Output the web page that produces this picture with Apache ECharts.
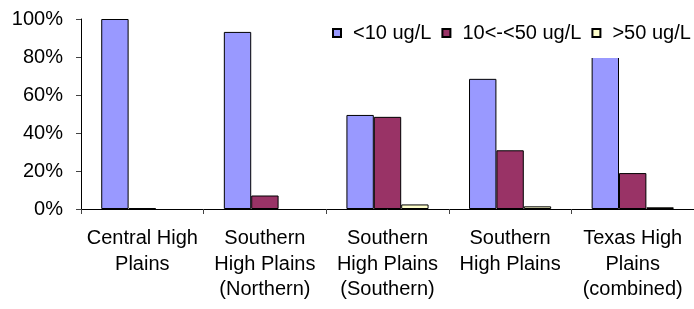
<!DOCTYPE html>
<html>
<head>
<meta charset="utf-8">
<script src="https://cdn.jsdelivr.net/npm/echarts@6/dist/echarts.min.js"></script>
<style>
  html, body { margin: 0; padding: 0; background: #fff; }
  #chart { width: 694px; height: 309px; }
</style>
</head>
<body>
<div id="chart"></div>
<script>
var categories = ['Central High\nPlains', 'Southern\nHigh Plains\n(Northern)', 'Southern\nHigh Plains\n(Southern)', 'Southern\nHigh Plains', 'Texas High\nPlains\n(combined)'];
var seriesNames = ['<10 ug/L', '10<-<50 ug/L', '>50 ug/L'];
var lowValues = [100, 93.2, 49.5, 68.5, 80.2];
var midValues = [0.4, 7.1, 48.5, 30.9, 18.9];
var highValues = [0, 0, 2.4, 1.4, 0.9];
var yTicks = [0, 20, 40, 60, 80, 100];

var font = 'Liberation Sans, Arial, sans-serif';
var colors = ['#9999FF', '#993366', '#FFFFCC'];

var myChart = echarts.init(document.getElementById('chart'));

// a zero share draws no bar at all (no flat outline)
function barSeries(name, data, color) {
    return {
        name: name,
        type: 'bar',
        data: data.map(function (v) { return v === 0 ? '-' : v; }),
        barGap: '0%',
        barCategoryGap: '33%',
        itemStyle: {
            color: color,
            borderColor: '#000',
            borderWidth: 1
        }
    };
}

var option = {
    animation: false,
    textStyle: { fontFamily: font },
    legend: {
        left: 322,
        top: 14,
        width: 380,
        padding: [9, 0, 15, 10],
        backgroundColor: '#fff',
        itemWidth: 8,
        itemHeight: 8,
        itemGap: 10,
        icon: 'rect',
        textStyle: {
            fontFamily: font,
            fontSize: 20,
            color: '#000',
            padding: [0, 0, 0, 7]
        },
        data: seriesNames
    },
    grid: {
        left: 81,
        right: -6,
        top: 19,
        bottom: 100,
        containLabel: false
    },
    xAxis: {
        type: 'category',
        data: categories,
        axisLine: { lineStyle: { color: '#000', width: 1 } },
        axisTick: { show: true, length: 5, lineStyle: { color: '#444' } },
        axisLabel: {
            interval: 0,
            margin: 17,
            fontFamily: font,
            fontSize: 20,
            lineHeight: 25.5,
            color: '#000'
        }
    },
    yAxis: {
        type: 'value',
        min: yTicks[0],
        max: yTicks[yTicks.length - 1],
        interval: 20,
        axisLine: { show: true, lineStyle: { color: '#000', width: 1 } },
        axisTick: { show: true, length: 5, lineStyle: { color: '#444' } },
        splitLine: { show: false },
        axisLabel: {
            margin: 18,
            fontFamily: font,
            fontSize: 20,
            color: '#000',
            formatter: '{value}%'
        }
    },
    series: [
        barSeries(seriesNames[0], lowValues, colors[0]),
        barSeries(seriesNames[1], midValues, colors[1]),
        barSeries(seriesNames[2], highValues, colors[2])
    ]
};

myChart.setOption(option);
</script>
</body>
</html>
